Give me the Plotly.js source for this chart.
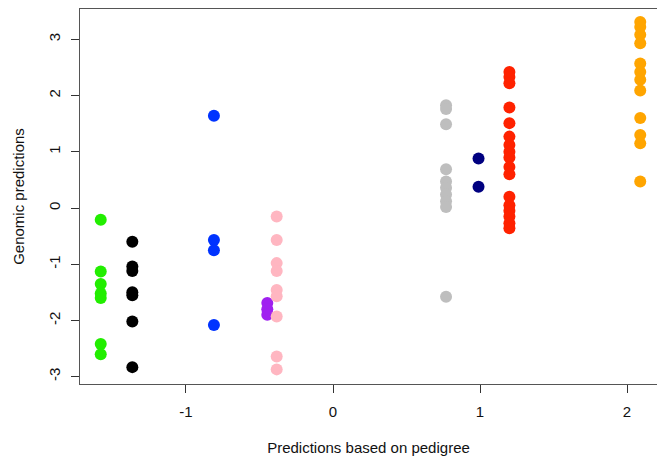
<!DOCTYPE html>
<html><head><meta charset="utf-8">
<script src="https://cdn.plot.ly/plotly-3.0.1.min.js"></script>
<style>html,body{margin:0;padding:0;overflow:hidden;background:#fff}</style>
</head><body><div id="chart" style="width:657px;height:458px"></div>
<script>
// Group x positions (prediction based on pedigree) and genomic predictions
const groupNames = ["green","black","blue","purple","pink","gray","navy","red","orange"];
const groupColors = ["#22EE00","#000000","#0033FF","#A020F0","#FFB6C1","#BEBEBE","#000080","#FF2200","#FFA500"];
const groupX = [-1.58, -1.365, -0.81, -0.447, -0.383, 0.769, 0.99, 1.2, 2.09];
const greenY = [-0.21, -1.13, -1.35, -1.52, -1.6, -2.42, -2.6];
const blackY = [-0.6, -1.04, -1.12, -1.5, -1.55, -2.02, -2.83];
const blueY = [1.64, -0.57, -0.75, -2.08];
const purpleY = [-1.69, -1.8, -1.9];
const pinkY = [-0.15, -0.57, -0.98, -1.12, -1.46, -1.57, -1.93, -2.64, -2.87];
const grayY = [1.83, 1.76, 1.49, 0.69, 0.47, 0.36, 0.24, 0.12, 0.02, -1.58];
const navyY = [0.88, 0.38];
const redY = [2.42, 2.33, 2.22, 1.79, 1.51, 1.27, 1.12, 1.0, 0.9, 0.73, 0.6, 0.2, 0.05, -0.05, -0.15, -0.27, -0.36];
const orangeY = [3.31, 3.22, 3.08, 2.93, 2.57, 2.42, 2.28, 2.09, 1.6, 1.3, 1.15, 0.47];
const groupY = [greenY, blackY, blueY, purpleY, pinkY, grayY, navyY, redY, orangeY];
const xTicks = [-1, 0, 1, 2];
const yTicks = [-3, -2, -1, 0, 1, 2, 3];

const traces = groupNames.map((n, i) => ({
  type: "scatter", mode: "markers", name: n,
  x: groupY[i].map(() => groupX[i]), y: groupY[i],
  marker: {color: groupColors[i], size: 12, line: {width: 0}},
  hoverinfo: "x+y"
}));

const font = {family: "Liberation Sans, Arial, sans-serif", size: 15, color: "#111"};
const layout = {
  width: 657, height: 458,
  margin: {l: 80, r: 0, t: 9, b: 74},
  paper_bgcolor: "#fff", plot_bgcolor: "#fff",
  showlegend: false, font: font,
  xaxis: {
    range: [-1.721, 2.204], tickvals: xTicks, ticktext: xTicks.map(String),
    showgrid: false, zeroline: false, showline: true, mirror: true,
    linecolor: "#555", linewidth: 1, ticks: "outside", ticklen: 8, tickcolor: "#333",
    ticklabelstandoff: 6, tickfont: {size: 15},
    title: {text: "Predictions based on pedigree", font: {size: 15}, standoff: 23}
  },
  yaxis: {
    range: [-3.13, 3.54], tickvals: yTicks, ticktext: yTicks.map(String),
    showgrid: false, zeroline: false, showline: true, mirror: false,
    linecolor: "#555", linewidth: 1, ticks: "outside", ticklen: 8, tickcolor: "#333",
    tickangle: -90, ticklabelstandoff: 5, tickfont: {size: 15},
    title: {text: "Genomic predictions", font: {size: 15}, standoff: 17}
  }
};
Plotly.newPlot("chart", traces, layout, {displayModeBar: false, staticPlot: true});
</script></body></html>
